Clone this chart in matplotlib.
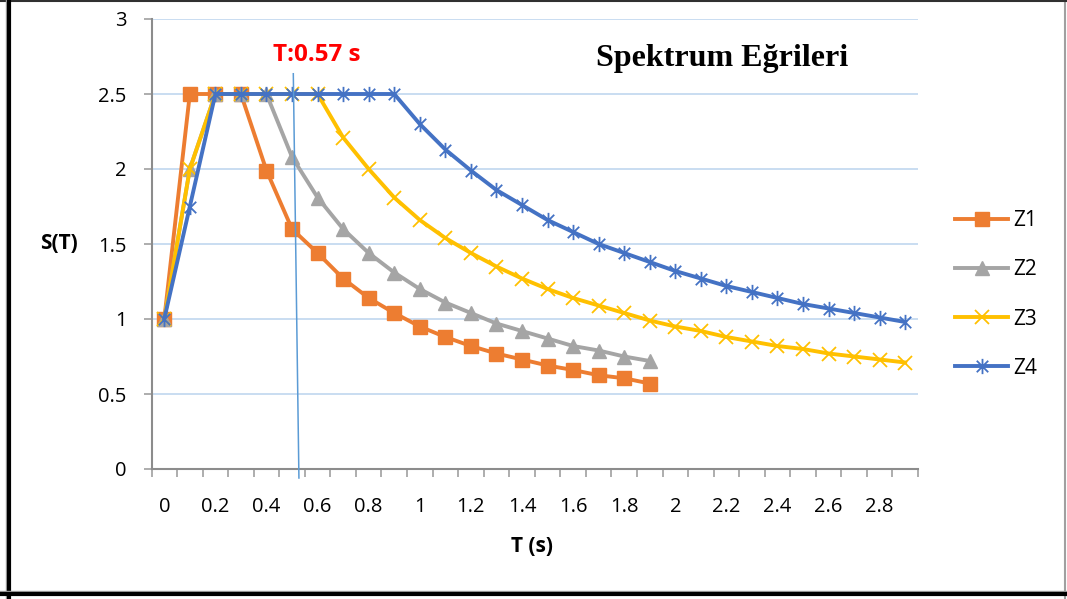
import numpy as np
import matplotlib
matplotlib.use('Agg')
import matplotlib.pyplot as plt
from matplotlib.path import Path

# Period categories (s), shown on a category axis like Excel
T = [round(0.1 * i, 1) for i in range(30)]
tick_labels = ['0', '0.2', '0.4', '0.6', '0.8', '1', '1.2', '1.4', '1.6', '1.8',
               '2', '2.2', '2.4', '2.6', '2.8']

z1 = [1, 2.5, 2.5, 2.5, 1.99, 1.6, 1.44, 1.27, 1.14, 1.04, 0.95, 0.88, 0.82, 0.77,
      0.73, 0.69, 0.66, 0.625, 0.605, 0.57]
z2 = [1, 2.0, 2.5, 2.5, 2.5, 2.08, 1.81, 1.6, 1.44, 1.31, 1.2, 1.11, 1.04, 0.97,
      0.92, 0.87, 0.82, 0.79, 0.75, 0.72]
z3 = [1, 2.0, 2.5, 2.5, 2.5, 2.5, 2.5, 2.21, 2.0, 1.81, 1.66, 1.54, 1.44, 1.35,
      1.27, 1.2, 1.14, 1.09, 1.04, 0.99, 0.95, 0.92, 0.88, 0.85, 0.82, 0.8, 0.77,
      0.75, 0.73, 0.71]
z4 = [1, 1.75, 2.5, 2.5, 2.5, 2.5, 2.5, 2.5, 2.5, 2.5, 2.3, 2.13, 1.99, 1.86,
      1.76, 1.66, 1.58, 1.5, 1.44, 1.38, 1.32, 1.27, 1.22, 1.18, 1.14, 1.1, 1.07,
      1.04, 1.01, 0.98]

# marker line for T = 0.57 s (drawn by hand in the original, slightly tilted)
mark_x = [5.05, 5.27]
mark_y = [2.635, -0.06]

plt.rcParams['font.family'] = ['Open Sans', 'DejaVu Sans']

# Excel style star marker: vertical bar + X
star = Path([(0, -1), (0, 1), (-0.75, -0.75), (0.75, 0.75), (-0.75, 0.75), (0.75, -0.75)],
            [Path.MOVETO, Path.LINETO] * 3)

W, H = 1067, 599
fig = plt.figure(figsize=(W / 100, H / 100), dpi=100)
ax = fig.add_axes([151.5 / W, 1 - 469 / H, 766.5 / W, 450 / H])

x = np.arange(len(T))
ax.plot(x[:len(z1)], z1, color='#ED7D31', lw=2.8, marker='s', ms=9.5, label='Z1', zorder=3)
ax.plot(x[:len(z2)], z2, color='#A5A5A5', lw=2.8, marker='^', ms=10, label='Z2', zorder=3)
ax.plot(x[:len(z3)], z3, color='#FFC000', lw=2.8, marker='x', ms=9.5, mew=1.3, label='Z3', zorder=3)
ax.plot(x[:len(z4)], z4, color='#4472C4', lw=2.8, marker=star, ms=11, mew=1.3, label='Z4', zorder=3)

ax.plot(mark_x, mark_y, color='#5B9BD5', lw=1.1, clip_on=False, zorder=4)
ax.text(5.95, 2.76, 'T:0.57 s', color='#FF0000', fontsize=17.5, fontweight='bold',
        ha='center', va='center')
ax.text(0.745, 0.913, 'Spektrum Eğrileri', transform=ax.transAxes, family='Liberation Serif',
        fontsize=23, fontweight='bold', ha='center', va='center')

ax.set_xlim(-0.5, len(T) - 0.5)
ax.set_ylim(0, 3)
ax.set_yticks(np.arange(0, 3.01, 0.5))
ax.set_yticklabels(['0', '0.5', '1', '1.5', '2', '2.5', '3'])
ax.set_xticks(np.arange(0, len(T), 2))
ax.set_xticklabels(tick_labels)
ax.set_xticks(np.arange(-0.5, len(T), 1), minor=True)
ax.tick_params(axis='x', which='major', length=0, pad=20, labelsize=14.5)
ax.tick_params(axis='x', which='minor', length=6, color='#A0A0A0', width=1.2)
ax.tick_params(axis='y', length=6, color='#A0A0A0', width=1.2, pad=12, labelsize=14.5)

ax.grid(axis='y', color='#C5DAF0', lw=1.3)
ax.set_axisbelow(True)
for s in ['top', 'right']:
    ax.spines[s].set_visible(False)
for s in ['left', 'bottom']:
    ax.spines[s].set_color('#8C8C8C')
    ax.spines[s].set_linewidth(1.5)

fig.text(59 / W, 1 - 244 / H, 'S(T)', fontsize=15, fontweight='bold', ha='center', va='center')
fig.text(532 / W, 1 - 546 / H, 'T (s)', fontsize=15, fontweight='bold', ha='center', va='center')

ax.legend(loc='center left', bbox_to_anchor=(955 / W, 1 - 294.5 / H), bbox_transform=fig.transFigure,
          frameon=False, fontsize=15, handlelength=2.55, labelspacing=1.35, handletextpad=0.25,
          borderpad=0, borderaxespad=0)

# chart frame: thin gray border with heavy black outline on left and bottom
fig.add_artist(plt.Line2D([1065 / W, 1065 / W], [0, 1], transform=fig.transFigure, color='#A0A0A0', lw=1.5))
fig.add_artist(plt.Line2D([0, 1], [1 - 1 / H, 1 - 1 / H], transform=fig.transFigure, color='#303030', lw=1.5))
fig.add_artist(plt.Line2D([6 / W, 6 / W], [0, 1], transform=fig.transFigure, color='#A0A0A0', lw=1))
fig.add_artist(plt.Line2D([9 / W, 9 / W], [0, 1], transform=fig.transFigure, color='black', lw=3))
fig.add_artist(plt.Line2D([0, 1], [1 - 590.5 / H, 1 - 590.5 / H], transform=fig.transFigure, color='#A0A0A0', lw=1))
fig.add_artist(plt.Line2D([0, 1], [1 - 594 / H, 1 - 594 / H], transform=fig.transFigure, color='black', lw=3))

fig.savefig('out.png', dpi=100)
